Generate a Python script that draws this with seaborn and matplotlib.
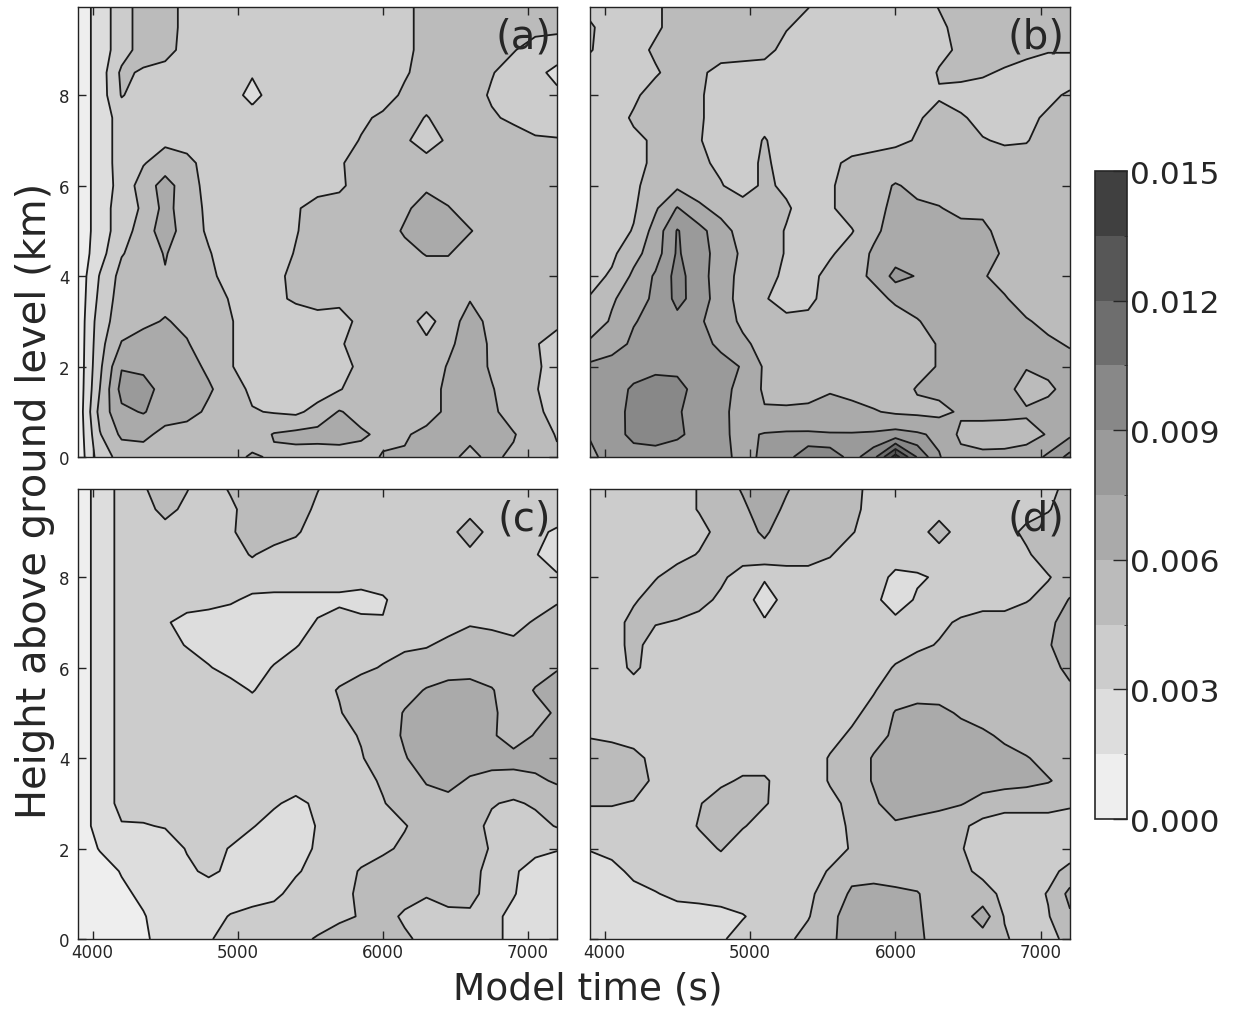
import numpy as np
import matplotlib
matplotlib.use("Agg")
import matplotlib.pyplot as plt
from matplotlib.colors import ListedColormap, BoundaryNorm
import seaborn as sns

# grid of the model output: time (s) and height (km)
times = [3900, 4050, 4200, 4350, 4500, 4650, 4800, 4950, 5100, 5250, 5400, 5550,
         5700, 5850, 6000, 6150, 6300, 6450, 6600, 6750, 6900, 7050, 7200]
heights = [0.0, 0.5, 1.0, 1.5, 2.0, 2.5, 3.0, 3.5, 4.0, 4.5, 5.0, 5.5,
           6.0, 6.5, 7.0, 7.5, 8.0, 8.5, 9.0, 9.5, 10.0]

# field values in units of 1e-4, one row per height (ground first)
qa = [
    [5, 38, 50, 52, 52, 52, 52, 55, 62, 58, 55, 53, 53, 55, 61, 62, 63, 62, 58, 62, 58, 52, 47],
    [5, 44, 63, 64, 55, 52, 52, 52, 52, 61, 64, 65, 66, 62, 57, 58, 65, 64, 62, 64, 61, 52, 44],
    [5, 50, 72, 76, 68, 66, 57, 52, 46, 44, 42, 50, 61, 55, 52, 52, 52, 64, 67, 63, 53, 48, 40],
    [5, 45, 80, 80, 70, 67, 62, 52, 42, 38, 38, 38, 44, 52, 52, 52, 52, 64, 68, 61, 52, 46, 38],
    [5, 42, 74, 72, 68, 66, 57, 46, 38, 38, 38, 38, 40, 48, 52, 52, 52, 61, 68, 58, 52, 47, 40],
    [5, 40, 61, 66, 66, 61, 53, 46, 38, 38, 38, 38, 43, 52, 52, 52, 48, 57, 67, 58, 52, 46, 40],
    [5, 38, 53, 57, 61, 57, 53, 46, 38, 38, 38, 38, 42, 47, 52, 52, 40, 52, 67, 55, 52, 50, 48],
    [5, 34, 52, 54, 56, 54, 52, 44, 38, 42, 47, 52, 47, 50, 52, 52, 52, 53, 59, 52, 52, 52, 52],
    [5, 31, 50, 54, 59, 54, 48, 40, 38, 42, 48, 52, 52, 52, 52, 52, 52, 52, 52, 52, 52, 52, 52],
    [5, 24, 44, 52, 61, 52, 46, 38, 38, 38, 46, 52, 52, 52, 52, 55, 61, 61, 52, 52, 52, 52, 52],
    [5, 22, 38, 52, 68, 52, 43, 38, 38, 38, 44, 52, 52, 52, 52, 62, 68, 68, 61, 52, 52, 52, 52],
    [5, 22, 38, 47, 65, 52, 42, 38, 38, 38, 43, 52, 52, 52, 52, 57, 67, 61, 52, 52, 52, 52, 52],
    [5, 22, 35, 52, 66, 52, 40, 38, 38, 38, 38, 38, 42, 52, 52, 52, 57, 52, 52, 52, 52, 52, 52],
    [5, 22, 36, 44, 52, 50, 38, 38, 38, 38, 38, 38, 43, 52, 52, 52, 52, 52, 52, 52, 52, 52, 52],
    [5, 22, 36, 38, 42, 38, 38, 38, 38, 38, 38, 38, 38, 46, 52, 48, 36, 48, 52, 52, 52, 47, 46],
    [5, 22, 36, 38, 38, 38, 38, 38, 38, 38, 38, 38, 38, 42, 48, 52, 44, 52, 52, 47, 42, 38, 38],
    [5, 22, 46, 38, 38, 38, 38, 38, 24, 38, 38, 38, 38, 38, 38, 48, 52, 52, 52, 43, 38, 38, 33],
    [5, 22, 48, 43, 38, 38, 38, 38, 32, 38, 38, 38, 38, 38, 38, 43, 52, 52, 52, 46, 38, 34, 26],
    [5, 22, 38, 52, 52, 38, 38, 38, 38, 38, 38, 38, 38, 38, 38, 40, 52, 52, 52, 52, 46, 38, 38],
    [5, 22, 38, 52, 52, 40, 38, 38, 38, 38, 38, 38, 38, 38, 38, 40, 52, 52, 52, 52, 52, 50, 48],
    [5, 22, 38, 52, 52, 40, 38, 38, 38, 38, 38, 38, 38, 38, 38, 40, 52, 52, 52, 52, 52, 52, 52],
]

qb = [
    [72, 80, 82, 82, 80, 80, 80, 70, 78, 84, 102, 100, 84, 100, 142, 104, 76, 64, 63, 64, 66, 78, 95],
    [76, 82, 95, 98, 93, 84, 77, 72, 76, 77, 77, 76, 76, 77, 80, 77, 72, 57, 54, 53, 55, 61, 72],
    [80, 84, 94, 98, 92, 82, 78, 70, 61, 62, 63, 64, 63, 61, 58, 57, 56, 62, 64, 64, 62, 64, 66],
    [82, 84, 92, 97, 95, 84, 80, 70, 58, 55, 55, 59, 57, 54, 54, 61, 64, 66, 66, 65, 54, 58, 64],
    [78, 82, 84, 86, 86, 84, 80, 74, 58, 53, 52, 52, 52, 52, 52, 55, 61, 66, 66, 65, 61, 63, 64],
    [63, 68, 78, 82, 84, 80, 72, 63, 55, 52, 52, 52, 52, 52, 52, 55, 61, 66, 67, 66, 65, 62, 59],
    [50, 62, 74, 80, 86, 77, 68, 57, 52, 48, 48, 52, 52, 52, 55, 59, 66, 67, 67, 65, 61, 57, 55],
    [46, 58, 68, 78, 94, 84, 66, 55, 46, 40, 42, 50, 52, 56, 62, 67, 67, 67, 66, 61, 55, 52, 52],
    [40, 47, 63, 77, 95, 82, 66, 56, 50, 42, 40, 50, 56, 62, 80, 74, 67, 66, 61, 56, 52, 52, 52],
    [38, 42, 55, 68, 92, 80, 70, 57, 52, 44, 38, 43, 52, 62, 67, 68, 68, 67, 66, 58, 52, 52, 52],
    [38, 38, 46, 66, 91, 80, 66, 54, 52, 44, 38, 40, 44, 57, 66, 68, 68, 66, 63, 55, 52, 52, 52],
    [38, 38, 43, 58, 76, 63, 55, 52, 52, 47, 38, 43, 52, 52, 66, 62, 61, 55, 57, 52, 52, 52, 52],
    [38, 38, 42, 52, 57, 52, 46, 38, 48, 42, 38, 43, 52, 55, 61, 57, 52, 52, 52, 52, 52, 52, 52],
    [38, 38, 42, 47, 52, 48, 42, 38, 48, 38, 38, 42, 48, 52, 52, 52, 52, 52, 52, 52, 52, 52, 52],
    [38, 38, 42, 47, 52, 46, 38, 38, 46, 38, 38, 38, 38, 38, 42, 46, 52, 52, 46, 43, 44, 52, 52],
    [38, 38, 47, 52, 52, 47, 38, 38, 40, 38, 38, 38, 38, 38, 38, 44, 48, 47, 40, 38, 42, 47, 52],
    [38, 38, 42, 52, 52, 47, 38, 38, 38, 38, 38, 38, 38, 38, 38, 40, 44, 38, 38, 38, 38, 42, 47],
    [38, 38, 38, 43, 52, 48, 40, 38, 38, 38, 38, 38, 38, 38, 38, 38, 46, 50, 47, 43, 38, 38, 38],
    [46, 38, 38, 48, 52, 52, 52, 52, 50, 40, 38, 38, 38, 38, 38, 38, 42, 47, 52, 52, 50, 46, 46],
    [47, 38, 38, 42, 52, 52, 52, 52, 52, 46, 40, 38, 38, 38, 38, 38, 42, 50, 52, 52, 52, 52, 52],
    [40, 38, 38, 42, 52, 52, 52, 52, 52, 52, 46, 38, 38, 38, 38, 38, 46, 52, 52, 52, 52, 52, 52],
]

qc = [
    [5, 6, 8, 12, 22, 24, 28, 38, 38, 40, 42, 46, 52, 52, 52, 48, 40, 38, 38, 34, 26, 22, 22],
    [5, 6, 8, 14, 22, 22, 24, 31, 36, 38, 38, 40, 42, 46, 52, 42, 40, 40, 42, 34, 26, 22, 22],
    [5, 6, 12, 18, 22, 22, 22, 22, 22, 26, 36, 38, 40, 48, 52, 52, 46, 52, 50, 38, 31, 22, 22],
    [5, 8, 16, 22, 22, 27, 33, 27, 22, 22, 28, 36, 40, 46, 52, 52, 52, 52, 50, 40, 32, 24, 22],
    [5, 16, 22, 22, 22, 31, 36, 29, 22, 22, 24, 32, 38, 40, 42, 48, 52, 52, 50, 44, 38, 34, 31],
    [5, 22, 29, 29, 31, 36, 38, 38, 31, 24, 22, 31, 38, 38, 40, 44, 52, 52, 50, 42, 38, 40, 46],
    [5, 22, 34, 36, 38, 38, 38, 38, 38, 32, 26, 33, 38, 40, 44, 52, 55, 55, 53, 46, 43, 47, 50],
    [5, 22, 34, 38, 38, 38, 38, 38, 38, 38, 38, 38, 38, 40, 47, 53, 61, 65, 58, 54, 55, 57, 62],
    [5, 22, 34, 38, 38, 38, 38, 38, 38, 38, 38, 38, 38, 44, 52, 59, 67, 68, 68, 67, 65, 66, 66],
    [5, 22, 34, 38, 38, 38, 38, 38, 38, 38, 38, 38, 41, 46, 52, 62, 68, 68, 66, 62, 53, 61, 66],
    [5, 22, 34, 38, 38, 38, 38, 38, 38, 38, 38, 38, 44, 52, 52, 61, 67, 68, 67, 63, 52, 55, 62],
    [5, 22, 34, 38, 38, 38, 38, 36, 29, 37, 38, 40, 46, 52, 52, 55, 61, 64, 64, 61, 52, 61, 66],
    [5, 22, 34, 38, 38, 38, 31, 25, 24, 31, 37, 38, 40, 42, 46, 52, 52, 55, 56, 53, 52, 54, 59],
    [5, 22, 34, 38, 36, 29, 24, 22, 22, 24, 29, 36, 38, 38, 40, 42, 44, 48, 50, 49, 47, 50, 52],
    [5, 22, 34, 38, 32, 24, 22, 22, 22, 22, 24, 31, 36, 33, 31, 38, 38, 40, 44, 43, 42, 46, 49],
    [5, 22, 34, 38, 38, 38, 36, 32, 27, 26, 26, 26, 27, 25, 28, 38, 38, 38, 38, 38, 38, 40, 44],
    [5, 22, 34, 38, 38, 38, 38, 38, 38, 38, 38, 38, 36, 36, 38, 38, 38, 38, 38, 38, 38, 36, 32],
    [5, 22, 34, 38, 38, 38, 38, 40, 46, 40, 38, 38, 38, 38, 38, 38, 38, 38, 40, 38, 36, 31, 22],
    [5, 22, 34, 38, 40, 38, 38, 43, 52, 52, 47, 38, 38, 38, 38, 38, 38, 38, 55, 38, 38, 33, 28],
    [5, 22, 34, 40, 49, 42, 38, 42, 52, 52, 52, 42, 38, 38, 38, 38, 38, 38, 38, 38, 38, 38, 38],
    [5, 22, 34, 44, 52, 46, 38, 47, 52, 52, 52, 46, 38, 38, 38, 38, 38, 38, 38, 38, 38, 38, 38],
]

qd = [
    [22, 22, 22, 22, 22, 22, 28, 36, 38, 42, 50, 57, 67, 68, 68, 63, 54, 52, 52, 47, 38, 40, 50],
    [22, 22, 22, 22, 22, 22, 24, 29, 36, 38, 44, 56, 67, 68, 68, 62, 53, 52, 68, 44, 38, 44, 58],
    [22, 22, 26, 29, 34, 36, 38, 38, 38, 38, 42, 52, 62, 65, 63, 61, 52, 52, 50, 42, 38, 46, 64],
    [22, 26, 33, 38, 38, 38, 38, 38, 38, 38, 40, 46, 56, 54, 53, 52, 52, 48, 42, 38, 38, 40, 50],
    [31, 34, 36, 38, 38, 40, 46, 38, 38, 38, 38, 40, 46, 52, 54, 53, 52, 46, 38, 38, 38, 38, 36],
    [38, 38, 38, 38, 38, 46, 52, 46, 40, 38, 38, 40, 47, 53, 58, 54, 52, 48, 40, 38, 38, 38, 38],
    [46, 46, 44, 40, 40, 44, 52, 50, 46, 40, 38, 42, 48, 58, 66, 67, 64, 61, 55, 50, 50, 50, 47],
    [52, 52, 52, 42, 38, 38, 42, 47, 47, 38, 38, 46, 53, 61, 67, 68, 68, 67, 66, 66, 64, 61, 55],
    [52, 52, 50, 40, 38, 38, 38, 38, 38, 38, 38, 46, 53, 61, 67, 68, 68, 67, 66, 65, 61, 55, 53],
    [44, 42, 38, 38, 38, 38, 38, 38, 38, 38, 38, 41, 47, 56, 62, 67, 67, 66, 63, 57, 52, 52, 52],
    [38, 38, 38, 38, 38, 38, 38, 38, 38, 38, 38, 38, 42, 49, 61, 65, 64, 58, 53, 52, 52, 52, 52],
    [38, 38, 38, 38, 38, 38, 38, 38, 38, 38, 38, 38, 38, 44, 52, 53, 53, 52, 52, 52, 52, 53, 58],
    [38, 38, 48, 38, 38, 38, 38, 38, 38, 38, 38, 38, 38, 40, 46, 52, 52, 52, 52, 52, 52, 56, 63],
    [38, 38, 50, 38, 38, 38, 38, 38, 38, 38, 38, 38, 38, 38, 40, 42, 46, 52, 52, 52, 53, 59, 66],
    [38, 38, 50, 46, 44, 40, 38, 38, 32, 38, 38, 38, 38, 38, 34, 38, 42, 47, 52, 52, 53, 58, 64],
    [38, 38, 43, 52, 52, 50, 42, 38, 22, 36, 38, 38, 38, 34, 22, 32, 38, 38, 38, 38, 44, 50, 61],
    [38, 38, 38, 44, 52, 52, 48, 38, 32, 38, 38, 38, 38, 38, 26, 28, 32, 38, 38, 38, 38, 44, 52],
    [38, 38, 38, 38, 40, 46, 52, 52, 55, 52, 52, 46, 38, 38, 38, 38, 38, 38, 38, 38, 43, 52, 52],
    [38, 38, 38, 38, 38, 40, 50, 55, 62, 53, 52, 52, 46, 38, 38, 38, 52, 38, 38, 40, 48, 52, 52],
    [38, 38, 38, 38, 38, 46, 52, 57, 68, 57, 52, 52, 50, 38, 38, 38, 38, 38, 38, 38, 40, 44, 52],
    [38, 38, 38, 38, 38, 46, 52, 62, 68, 62, 52, 52, 50, 40, 38, 38, 38, 38, 38, 38, 38, 40, 50],
]

panel_labels = ["(a)", "(b)", "(c)", "(d)"]
cbar_ticks = [0.0, 0.003, 0.006, 0.009, 0.012, 0.015]

sns.set_style("ticks", {"xtick.direction": "in", "ytick.direction": "in"})
plt.rcParams["font.family"] = ["DejaVu Sans"]

grays = ["#eeeeee", "#dddddd", "#cccccc", "#bbbbbb", "#aaaaaa",
         "#9a9a9a", "#888888", "#6e6e6e", "#575757", "#404040"]
cmap = ListedColormap(grays)
levels = np.linspace(0, 0.015, 11)
norm = BoundaryNorm(levels, cmap.N)

fig = plt.figure(figsize=(12.33, 10.12), dpi=100)
boxes = [
    [0.0633, 0.5474, 0.3885, 0.4447],
    [0.4785, 0.5474, 0.3893, 0.4447],
    [0.0633, 0.0711, 0.3885, 0.4447],
    [0.4785, 0.0711, 0.3893, 0.4447],
]

T, H = np.meshgrid(times, heights)
fields = [qa, qb, qc, qd]
for i, field in enumerate(fields):
    ax = fig.add_axes(boxes[i])
    ax.set_axisbelow(False)
    z = np.array(field, dtype=float) * 1e-4
    cf = ax.contourf(T, H, z, levels=levels, cmap=cmap, norm=norm)
    ax.contour(T, H, z, levels=levels[1:-1], colors="#1a1a1a", linewidths=1.3)
    ax.set_xlim(3900, 7200)
    ax.set_ylim(0, 9.95)
    ax.set_xticks([4000, 5000, 6000, 7000])
    ax.set_yticks([0, 2, 4, 6, 8])
    ax.tick_params(direction="in", top=True, right=True, length=6, width=1.0,
                   color="#222222", labelsize=12)
    ax.tick_params(axis="x", pad=3)
    ax.tick_params(axis="y", pad=6)
    for sp in ax.spines.values():
        sp.set_linewidth(1.0)
        sp.set_color("#222222")
    if i < 2:
        ax.set_xticklabels([])
    if i % 2 == 1:
        ax.set_yticklabels([])
    ax.text(0.988, 0.978, panel_labels[i], transform=ax.transAxes,
            ha="right", va="top", fontsize=29)

cax = fig.add_axes([0.8881, 0.1897, 0.026, 0.6403])
cb = fig.colorbar(cf, cax=cax, ticks=cbar_ticks)
cb.ax.set_yticklabels(["%.3f" % v for v in cbar_ticks])
cb.ax.set_axisbelow(False)
cb.ax.tick_params(labelsize=22.5, direction="in", length=10, width=1.0, pad=2)
cb.outline.set_linewidth(1.2)

fig.text(0.028, 0.505, "Height above ground level (km)", rotation=90,
         ha="center", va="center", fontsize=28.8)
fig.text(0.477, 0.022, "Model time (s)", ha="center", va="center", fontsize=27)

fig.savefig("out.png", dpi=100)
